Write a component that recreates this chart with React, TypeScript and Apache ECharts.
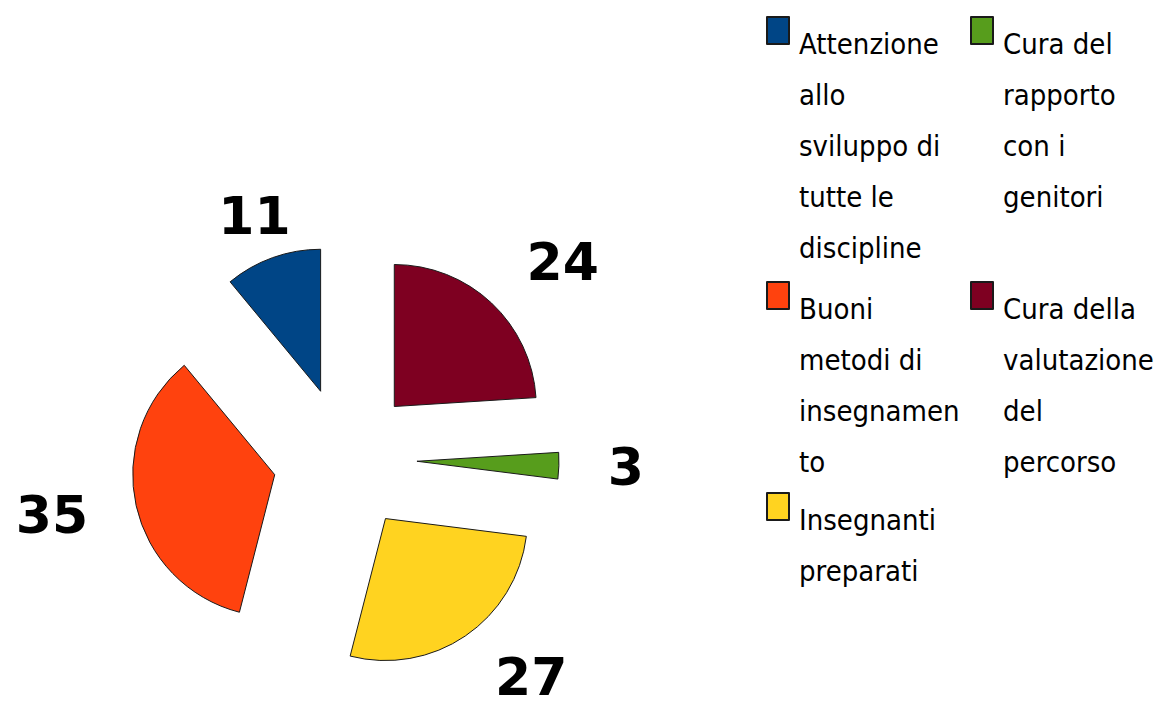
import React, { useEffect, useRef } from "react";
import * as echarts from "echarts";

// Slices, clockwise from 12 o'clock
const categories = [
  "Cura della valutazione del percorso",
  "Cura del rapporto con i genitori",
  "Insegnanti preparati",
  "Buoni metodi di insegnamento",
  "Attenzione allo sviluppo di tutte le discipline",
];
const values = [24, 3, 27, 35, 11];
const colors = ["#7E0021", "#579D1C", "#FFD320", "#FF420E", "#004586"];
// nudges of each value label (px), same order as categories
const labelNudgeX = [0, 0, 0, 0, 38];
const labelNudgeY = [-9, 0, 5, 0, 0];

// Legend order (2 columns, row by row) and wrapped legend lines
const legendOrder = [
  "Attenzione allo sviluppo di tutte le discipline",
  "Cura del rapporto con i genitori",
  "Buoni metodi di insegnamento",
  "Cura della valutazione del percorso",
  "Insegnanti preparati",
];
const legendLines: Record<string, string[]> = {
  "Attenzione allo sviluppo di tutte le discipline": ["Attenzione", "allo", "sviluppo di", "tutte le", "discipline"],
  "Cura del rapporto con i genitori": ["Cura del", "rapporto", "con i", "genitori"],
  "Buoni metodi di insegnamento": ["Buoni", "metodi di", "insegnamen", "to"],
  "Cura della valutazione del percorso": ["Cura della", "valutazione", "del", "percorso"],
  "Insegnanti preparati": ["Insegnanti", "preparati"],
};

const LEGEND_FONT = "'Liberation Sans Narrow', 'DejaVu Sans Condensed', 'Liberation Sans', sans-serif";
const LEGEND_SIZE = 29;
const LH = 51;
const ICON_W = 22;
const ICON_H = 27;
const TEXT_SHIFT = 13;
const colLefts = [766, 970];
const rowTops = [17, 282, 493];

const VALUE_FONT = {
  fontSize: 52,
  fontWeight: "bold",
  fontFamily: "'DejaVu Sans', sans-serif",
  color: "#000",
};

export default function App() {
  const ref = useRef<HTMLDivElement>(null);
  useEffect(() => {
    if (!ref.current) return;
    const chart = echarts.init(ref.current, null, { renderer: "svg" });
    const legends = legendOrder.map((name, i) => {
      const lines = legendLines[name];
      const n = lines.length;
      const pad = TEXT_SHIFT * 2 + (n - 1) * LH;
      const col = i % 2;
      const row = Math.floor(i / 2);
      const y0 = rowTops[row] + ICON_H / 2;
      return {
        data: [name],
        orient: "vertical",
        left: colLefts[col],
        top: y0 - (pad + n * LH) / 2,
        padding: 0,
        icon: "rect",
        itemWidth: ICON_W,
        itemHeight: ICON_H,
        selectedMode: false,
        formatter: () => "{pad| }\n" + lines.map((l) => `{t|${l}}`).join("\n"),
        textStyle: {
          color: "#000",
          fontSize: LEGEND_SIZE,
          fontFamily: LEGEND_FONT,
          lineHeight: LH,
          rich: {
            pad: { lineHeight: pad, fontSize: 1 },
            t: {
              fontSize: LEGEND_SIZE,
              fontFamily: LEGEND_FONT,
              lineHeight: LH,
              color: "#000",
              padding: [0, 0, 0, 5],
            },
          },
        },
      };
    });
    chart.setOption({
      animation: false,
      backgroundColor: "#fff",
      legend: legends,
      series: [
        {
          type: "pie",
          center: [345, 459],
          radius: 142,
          startAngle: 90,
          clockwise: true,
          selectedMode: "multiple",
          selectedOffset: 72,
          silent: true,
          avoidLabelOverlap: false,
          itemStyle: { borderColor: "#1a1a1a", borderWidth: 1 },
          label: {
            show: true,
            position: "outside",
            ...VALUE_FONT,
          },
          labelLine: { show: false, length: 44, length2: 0 },
          emphasis: { disabled: true },
          data: categories.map((name, i) => {
            const dy = labelNudgeY[i];
            const v = `{v|${values[i]}}`;
            const text = dy > 0 ? `{p| }\n${v}` : dy < 0 ? `${v}\n{p| }` : v;
            return {
              name,
              value: values[i],
              selected: true,
              itemStyle: { color: colors[i] },
              label: {
                formatter: text,
                padding: [0, -labelNudgeX[i], 0, 0],
                rich: {
                  v: { ...VALUE_FONT, lineHeight: 40 },
                  p: { fontSize: 1, lineHeight: Math.abs(dy) * 2 },
                },
              },
            };
          }),
        },
      ],
    });
    return () => chart.dispose();
  }, []);
  return (
    <div
      ref={ref}
      style={{ position: "fixed", left: 0, top: 0, width: 1157, height: 710 }}
    />
  );
}
